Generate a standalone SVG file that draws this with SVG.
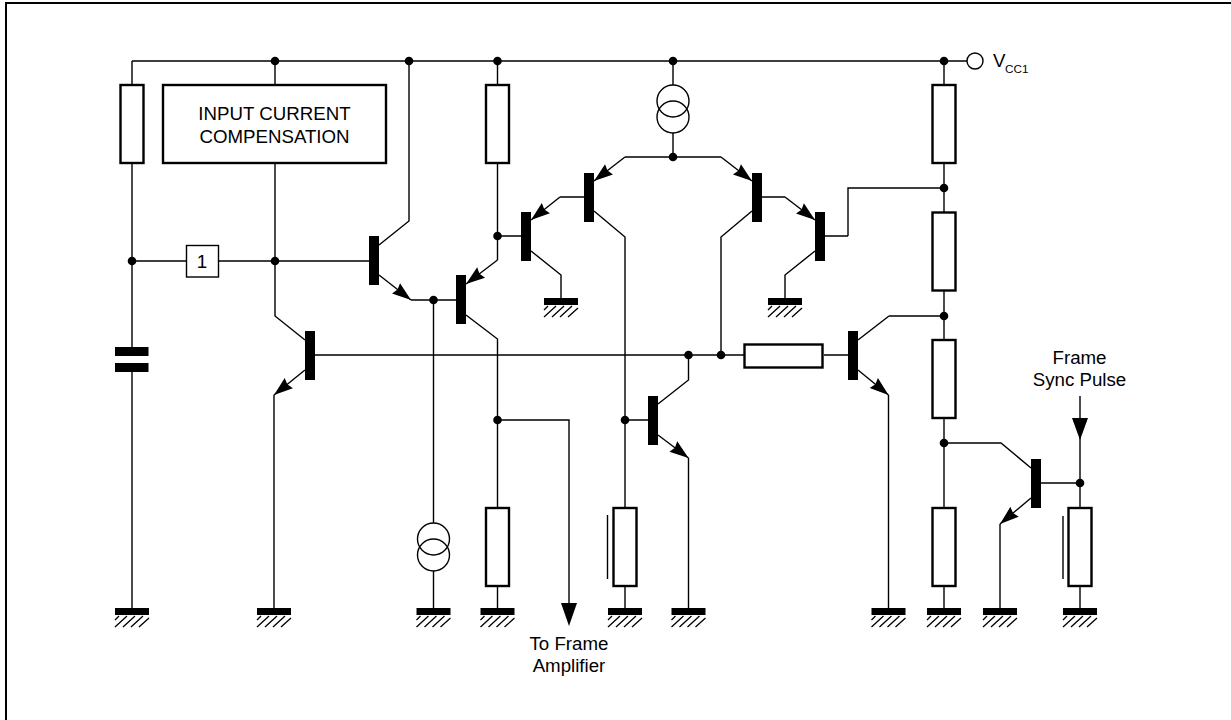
<svg xmlns="http://www.w3.org/2000/svg" width="1231" height="720" viewBox="0 0 1231 720">
<style>
.w{fill:none;stroke:#000;stroke-width:1.4}
.r{fill:#fff;stroke:#000;stroke-width:2.4}
.t{fill:#000;stroke:none}
.c{fill:none;stroke:#000;stroke-width:1.4}
.a{marker-end:url(#ah)}
text{font-family:"Liberation Sans",Arial,sans-serif;font-size:18.7px;fill:#000;text-anchor:middle}
</style>
<defs>
<marker id="ah" markerUnits="userSpaceOnUse" markerWidth="22" markerHeight="14" refX="20" refY="7" orient="auto" viewBox="0 0 22 14"><path d="M1 0.500L20 7L1 13.500L3 7Z" fill="#000"/></marker>
<g id="gnd"><rect x="-17" y="0" width="34" height="7" fill="#000"/><path d="M-17 19L-5 8M-9 19L3 8M-1 19L11 8M7 19L17 10M-17 12L-13 8" fill="none" stroke="#000" stroke-width="1.3"/></g>
<rect id="vr" class="r" x="-11.500" y="0" width="23" height="78"/>
<rect id="bar" class="t" x="0" y="0" width="10" height="49"/>
<circle id="dot" r="4.300" fill="#000"/>
<g id="cs"><circle class="c" cx="0" cy="-8" r="16"/><circle class="c" cx="0" cy="8" r="16"/></g>
</defs>
<path id="frame" d="M1231 3H6V720" fill="none" stroke="#000" stroke-width="2"/>
<g id="connectors">
<path class="w" d="M132 61H967M132 61V85M132 163V347M132 372V608M132 261H186M219 261H369M275 61V85M275 163V316L305 340M409 61V221L379 245M497.500 61V85M497.500 163V260M497.500 236H521M673 61V85M673 133V157M625 157H721M944 61V85M944 163V212M944 291V339M944 418V507M944 586V608M848 236V188H944M825 236H848M889 316H944M858 340L889 316M305 355H744M824 355H848M721 355V237L752 211M688.500 355V380L658 404M411 300H456M433.500 300V523M433.500 571V608M466 315L497.500 339V507M497.500 586V608M497.500 420H569V606M531 251L561 275V300M594 211L625 237V507M625 586V608M625 420H648M560 197H584M815 251L785 275V300M688.500 458V608M888.500 395V608M274 395V608M1031 468L1001 443H944M1000 524V608M1041 483H1080M1080 396V507M1080 586V608M762 197H785"/>
<path class="w a" d="M379 275L411 300"/>
<path class="w a" d="M497.500 260L466 284"/>
<path class="w a" d="M560 197L531 220"/>
<path class="w a" d="M625 157L594 181"/>
<path class="w a" d="M721 157L752 181"/>
<path class="w a" d="M785 197L815 220"/>
<path class="w a" d="M858 370L888.500 395"/>
<path class="w a" d="M658 435L688.500 458"/>
<path class="w a" d="M305 370L274 395"/>
<path class="w a" d="M1031 498L1000 524"/>
<path class="t" d="M561 603H577L569 626Z"/>
<path class="t" d="M1072 418H1088L1080 440Z"/>
<g id="junctions">
<use href="#dot" x="275" y="61"/><use href="#dot" x="409" y="61"/><use href="#dot" x="497.500" y="61"/><use href="#dot" x="673" y="61"/><use href="#dot" x="944" y="61"/>
<use href="#dot" x="673" y="157"/><use href="#dot" x="944" y="188"/><use href="#dot" x="132" y="261"/><use href="#dot" x="275" y="261"/><use href="#dot" x="497.500" y="236"/><use href="#dot" x="433.500" y="300"/><use href="#dot" x="944" y="316"/><use href="#dot" x="688.500" y="355"/><use href="#dot" x="721" y="355"/><use href="#dot" x="497.500" y="420"/><use href="#dot" x="625" y="420"/><use href="#dot" x="944" y="443"/><use href="#dot" x="1080" y="483"/>
</g>
</g>
<g id="vcc"><circle cx="975" cy="61" r="8" fill="#fff" stroke="#000" stroke-width="1.400"/><text x="993" y="67" style="text-anchor:start">V</text><text x="1005" y="73" style="text-anchor:start;font-size:11.700px">CC1</text></g>
<g id="R1"><use href="#vr" x="132" y="85"/></g>
<g id="R2"><use href="#vr" x="497.500" y="85"/></g>
<g id="R3"><use href="#vr" x="944" y="85"/></g>
<g id="R4"><use href="#vr" x="944" y="212.500"/></g>
<g id="R5"><use href="#vr" x="944" y="340"/></g>
<g id="R6"><use href="#vr" x="944" y="508"/></g>
<g id="R7"><use href="#vr" x="497.500" y="508"/></g>
<g id="R8"><use href="#vr" x="625" y="508"/><path d="M607.500 515V579" fill="none" stroke="#000" stroke-width="1.400"/></g>
<g id="R9"><use href="#vr" x="1080" y="508"/><path d="M1063 516V579" fill="none" stroke="#000" stroke-width="1.400"/></g>
<g id="R10"><rect class="r" x="744.500" y="344.500" width="78" height="23"/></g>
<g id="compensation"><rect class="r" x="163" y="85" width="223" height="78"/><text x="274.500" y="120">INPUT CURRENT</text><text x="274.500" y="143">COMPENSATION</text></g>
<g id="buffer"><rect x="186.500" y="245.500" width="32" height="31.500" fill="#fff" stroke="#000" stroke-width="1.400"/><text x="202" y="268">1</text></g>
<g id="capacitor"><rect class="t" x="115" y="347" width="33.500" height="9"/><rect class="t" x="115" y="363" width="33.500" height="9"/></g>
<g id="CS1"><use href="#cs" x="673" y="109"/></g>
<g id="CS2"><use href="#cs" x="433.500" y="547"/></g>
<g id="Q1"><use href="#bar" x="369" y="236"/></g>
<g id="Q2"><use href="#bar" x="456" y="275"/></g>
<g id="Q3"><use href="#bar" x="521" y="212"/></g>
<g id="Q4"><use href="#bar" x="584" y="173"/></g>
<g id="Q5"><use href="#bar" x="752" y="173"/></g>
<g id="Q6"><use href="#bar" x="815" y="212"/></g>
<g id="Q7"><use href="#bar" x="305" y="331"/></g>
<g id="Q8"><use href="#bar" x="848" y="331"/></g>
<g id="Q9"><use href="#bar" x="648" y="396"/></g>
<g id="Q10"><use href="#bar" x="1031" y="459"/></g>
<g id="grounds">
<use href="#gnd" x="132" y="608"/><use href="#gnd" x="274" y="608"/><use href="#gnd" x="433.500" y="608"/><use href="#gnd" x="497.500" y="608"/><use href="#gnd" x="625" y="608"/><use href="#gnd" x="688.500" y="608"/><use href="#gnd" x="888.500" y="608"/><use href="#gnd" x="944" y="608"/><use href="#gnd" x="1000" y="608"/><use href="#gnd" x="1080" y="608"/>
<use href="#gnd" x="561" y="298"/><use href="#gnd" x="785" y="298"/>
</g>
<g id="labels">
<text x="569" y="650">To Frame</text><text x="569" y="672">Amplifier</text>
<text x="1079.500" y="364">Frame</text><text x="1079.500" y="386">Sync Pulse</text>
</g>
</svg>
